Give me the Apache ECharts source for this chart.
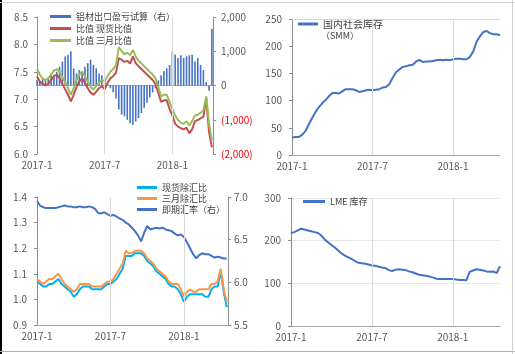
<!DOCTYPE html>
<html>
<head>
<meta charset="utf-8">
<title>铝 比值 库存</title>
<script src="https://cdn.jsdelivr.net/npm/echarts@6/dist/echarts.min.js"></script>
<style>
    html, body { margin: 0; padding: 0; background: #fff; }
    #main { width: 515px; height: 354px; }
</style>
</head>
<body>
<div id="main"></div>
<script>
    // 数据按周取值，x 为自 2017-1 起的月数
    var monthLabels = {0: '2017-1', 6: '2017-7', 12: '2018-1'};

    // 左上：比值与铝材出口盈亏
    var spotRatio = [7.42, 7.32, 7.28, 7.25, 7.28, 7.35, 7.42, 7.45, 7.38, 7.28, 7.18, 7.08, 6.96, 7.08, 7.22, 7.32,
        7.38, 7.30, 7.20, 7.12, 7.08, 7.14, 7.20, 7.24, 7.18, 7.30, 7.38, 7.42, 7.48, 7.75, 7.72, 7.68,
        7.70, 7.65, 7.78, 7.66, 7.60, 7.55, 7.50, 7.45, 7.40, 7.35, 7.28, 7.12, 6.95, 6.98, 6.98, 6.82,
        6.70, 6.55, 6.50, 6.47, 6.45, 6.48, 6.38, 6.45, 6.60, 6.62, 6.65, 6.68, 7.02, 6.40, 6.12];
    var threeMonthRatio = [7.55, 7.45, 7.38, 7.35, 7.38, 7.45, 7.52, 7.55, 7.50, 7.40, 7.32, 7.20, 7.08, 7.20, 7.35, 7.45,
        7.50, 7.42, 7.32, 7.22, 7.18, 7.24, 7.30, 7.35, 7.33, 7.42, 7.50, 7.55, 7.62, 7.95, 7.88, 7.82,
        7.85, 7.80, 7.90, 7.78, 7.70, 7.65, 7.60, 7.55, 7.50, 7.45, 7.38, 7.22, 7.05, 7.08, 7.08, 6.95,
        6.82, 6.70, 6.62, 6.57, 6.55, 6.60, 6.52, 6.60, 6.70, 6.72, 6.75, 6.80, 7.05, 6.55, 6.25];
    var exportProfit = [150, 100, 200, 150, 250, 350, 300, 400, 550, 700, 850, 900, 1000, 500, 350, 450,
        400, 550, 650, 750, 600, 500, 350, 300, 150, 50, -80, -200, -380, -700, -850, -900,
        -1000, -1100, -1150, -1050, -950, -800, -650, -500, -350, -200, -80, 150, 300, 420, 500, 600,
        1000, 900, 800, 880, 800, 850, 880, 900, 700, 800, 600, 450, 100, -150, 1650];

    // 右上：国内社会库存（SMM）
    var domesticStock = [32, 33, 33, 37, 44, 56, 68, 79, 88, 95, 101, 108, 114, 114, 113, 117,
        121, 121, 121, 119, 116, 117, 119, 120, 119, 120, 121, 124, 125, 130, 142, 152,
        157, 162, 163, 165, 166, 172, 175, 171, 172, 172, 173, 174, 175, 174, 175, 174,
        176, 177, 177, 176, 176, 180, 190, 208, 218, 226, 228, 224, 222, 222, 220];

    // 左下：除汇比与即期汇率
    var spotFxRatio = [1.07, 1.06, 1.05, 1.05, 1.06, 1.06, 1.07, 1.08, 1.06, 1.05, 1.04, 1.03, 1.01, 1.02, 1.04, 1.05,
        1.05, 1.05, 1.04, 1.04, 1.04, 1.04, 1.05, 1.06, 1.06, 1.07, 1.08, 1.10, 1.12, 1.17, 1.17, 1.17,
        1.18, 1.18, 1.18, 1.17, 1.15, 1.14, 1.13, 1.11, 1.10, 1.09, 1.08, 1.06, 1.05, 1.05, 1.04, 1.02,
        0.99, 1.01, 1.02, 1.02, 1.02, 1.02, 1.02, 1.01, 1.01, 1.04, 1.05, 1.05, 1.11, 1.03, 0.97];
    var threeMonthFxRatio = [1.08, 1.07, 1.06, 1.07, 1.08, 1.08, 1.09, 1.10, 1.08, 1.06, 1.05, 1.04, 1.03, 1.04, 1.06, 1.06,
        1.06, 1.06, 1.05, 1.05, 1.05, 1.05, 1.06, 1.07, 1.07, 1.08, 1.10, 1.12, 1.14, 1.19, 1.18, 1.18,
        1.19, 1.19, 1.19, 1.18, 1.16, 1.15, 1.14, 1.12, 1.11, 1.10, 1.09, 1.07, 1.06, 1.06, 1.06, 1.04,
        1.01, 1.03, 1.04, 1.03, 1.03, 1.04, 1.04, 1.04, 1.04, 1.06, 1.06, 1.07, 1.12, 1.04, 0.99];
    var spotFx = [6.95, 6.90, 6.88, 6.87, 6.87, 6.87, 6.87, 6.88, 6.89, 6.90, 6.89, 6.89, 6.88, 6.88, 6.89, 6.88,
        6.88, 6.89, 6.88, 6.86, 6.81, 6.81, 6.82, 6.80, 6.78, 6.79, 6.77, 6.75, 6.73, 6.70, 6.68, 6.64,
        6.60, 6.55, 6.48, 6.58, 6.66, 6.62, 6.63, 6.64, 6.63, 6.64, 6.62, 6.61, 6.60, 6.57, 6.55, 6.56,
        6.53, 6.47, 6.40, 6.33, 6.28, 6.32, 6.34, 6.33, 6.33, 6.31, 6.29, 6.30, 6.29, 6.28, 6.28];

    // 右下：LME 库存
    var lmeStock = [218, 220, 224, 228, 226, 224, 222, 220, 218, 212, 203, 196, 190, 184, 177, 170,
        165, 161, 157, 152, 148, 147, 146, 144, 142, 141, 139, 137, 136, 131, 129, 132,
        133, 132, 131, 128, 126, 123, 120, 119, 118, 116, 114, 111, 110, 110, 110, 110,
        110, 109, 108, 108, 107, 127, 130, 133, 132, 130, 128, 127, 128, 124, 140];

    var weekX = spotRatio.map(function (_, i) { return i * 0.25; });

    function pairs(vals) {
        return vals.map(function (v, i) { return [weekX[i], v]; });
    }

    var font = 'Noto Sans CJK SC';
    var labelColor = '#595959';

    function xAxisFor(gridIndex, max) {
        return {
            type: 'value', gridIndex: gridIndex, min: 0, max: max, interval: 6,
            axisLine: {lineStyle: {color: '#a6a6a6'}},
            axisTick: {show: false},
            splitLine: {show: false},
            axisLabel: {
                color: labelColor, fontSize: 10, fontFamily: font, margin: 6,
                showMaxLabel: false,
                formatter: function (v) { return monthLabels[v] || ''; }
            }
        };
    }

    function yAxisFor(gridIndex, pos, min, max, interval, fmt, margin, gridLine) {
        return {
            type: 'value', gridIndex: gridIndex, position: pos, min: min, max: max, interval: interval,
            axisLine: {show: true, lineStyle: {color: '#8c8c8c'}},
            axisTick: {show: true, length: 3, lineStyle: {color: '#8c8c8c'}},
            splitLine: {show: !!gridLine, lineStyle: {color: '#e6e6e6'}},
            axisLabel: {color: labelColor, fontSize: 10, fontFamily: font, margin: margin, formatter: fmt}
        };
    }

    function fixed1(v) { return v.toFixed(1); }

    // 竖向网格线（2017-7、2018-1），extra 为额外的横线
    function vGrid(extra) {
        return {
            silent: true, symbol: 'none', label: {show: false},
            lineStyle: {color: '#d9d9d9', type: 'solid', width: 1},
            data: [{xAxis: 6}, {xAxis: 12}].concat(extra || [])
        };
    }

    function legendFor(left, top, names, w, gap, size) {
        return {
            left: left, top: top, orient: 'vertical', icon: 'rect',
            itemWidth: w, itemHeight: 3, itemGap: gap, padding: 0,
            textStyle: {color: '#404040', fontSize: size, fontFamily: font},
            data: names
        };
    }

    var myChart = echarts.init(document.getElementById('main'));

    var option = {
        animation: false,
        backgroundColor: '#fff',
        grid: [
            {left: 37, right: 302, top: 17, bottom: 200},
            {left: 292, right: 15, top: 19, bottom: 199},
            {left: 37, right: 287, top: 197, bottom: 29},
            {left: 291, right: 15, top: 198, bottom: 28}
        ],
        xAxis: [xAxisFor(0, 15.6), xAxisFor(1, 15.5), xAxisFor(2, 15.6), xAxisFor(3, 15.5)],
        yAxis: [
            yAxisFor(0, 'left', 6, 8.5, 0.5, fixed1, 9),
            {
                type: 'value', gridIndex: 0, position: 'right', min: -2000, max: 2000, interval: 1000,
                axisLine: {show: true, lineStyle: {color: '#8c8c8c'}},
                axisTick: {show: true, length: 3, lineStyle: {color: '#8c8c8c'}},
                splitLine: {show: false},
                axisLabel: {
                    fontSize: 10, fontFamily: font, margin: 8,
                    color: function (v) { return Number(v) < 0 ? '#ff0000' : labelColor; },
                    formatter: function (v) {
                        if (v === 0) return '0';
                        var s = Math.abs(v).toLocaleString('en-US');
                        return v < 0 ? '(' + s + ')' : s;
                    }
                }
            },
            yAxisFor(1, 'left', 0, 250, 50, null, 10),
            yAxisFor(2, 'left', 0.9, 1.4, 0.1, fixed1, 10),
            yAxisFor(2, 'right', 5.5, 7.0, 0.5, fixed1, 6),
            yAxisFor(3, 'left', 0, 300, 100, null, 10, true)
        ],
        legend: [
            legendFor(50, 12, ['铝材出口盈亏试算（右）', '比值 现货比值', '比值 三月比值'], 21, 3, 9),
            legendFor(298, 19, ['国内社会库存'], 20, 0, 10),
            legendFor(137, 183, ['现货除汇比', '三月除汇比', '即期汇率（右）'], 20, 2, 9),
            legendFor(303, 197, ['LME 库存'], 22, 0, 9)
        ],
        graphic: [
            {type: 'text', left: 321, top: 31, style: {text: '（SMM）', fill: '#404040', font: '9px "Noto Sans CJK SC"'}},
            {type: 'line', shape: {x1: 1, y1: 0, x2: 1, y2: 354}, style: {stroke: '#000', lineWidth: 2}},
            {type: 'line', shape: {x1: 0, y1: 2.5, x2: 515, y2: 2.5}, style: {stroke: '#d0d0d0', lineWidth: 1}},
            {type: 'line', shape: {x1: 0, y1: 351.5, x2: 515, y2: 351.5}, style: {stroke: '#b0b0b0', lineWidth: 1}},
            {type: 'line', shape: {x1: 512.5, y1: 0, x2: 512.5, y2: 354}, style: {stroke: '#d0d0d0', lineWidth: 1}}
        ],
        series: [
            {
                name: '铝材出口盈亏试算（右）', type: 'bar', xAxisIndex: 0, yAxisIndex: 1,
                barWidth: 1.6, itemStyle: {color: '#4472c4'},
                data: pairs(exportProfit), markLine: vGrid()
            },
            {
                name: '比值 现货比值', type: 'line', xAxisIndex: 0, yAxisIndex: 0, showSymbol: false,
                lineStyle: {color: '#c0504d', width: 2}, itemStyle: {color: '#c0504d'},
                data: pairs(spotRatio)
            },
            {
                name: '比值 三月比值', type: 'line', xAxisIndex: 0, yAxisIndex: 0, showSymbol: false,
                lineStyle: {color: '#9bbb59', width: 2}, itemStyle: {color: '#9bbb59'},
                data: pairs(threeMonthRatio)
            },
            {
                name: '国内社会库存', type: 'line', xAxisIndex: 1, yAxisIndex: 2, showSymbol: false,
                lineStyle: {color: '#4472c4', width: 2}, itemStyle: {color: '#4472c4'},
                data: pairs(domesticStock), markLine: vGrid([{yAxis: 250}])
            },
            {
                name: '现货除汇比', type: 'line', xAxisIndex: 2, yAxisIndex: 3, showSymbol: false,
                lineStyle: {color: '#00b0f0', width: 2}, itemStyle: {color: '#00b0f0'},
                data: pairs(spotFxRatio), markLine: vGrid()
            },
            {
                name: '三月除汇比', type: 'line', xAxisIndex: 2, yAxisIndex: 3, showSymbol: false,
                lineStyle: {color: '#f79646', width: 2}, itemStyle: {color: '#f79646'},
                data: pairs(threeMonthFxRatio)
            },
            {
                name: '即期汇率（右）', type: 'line', xAxisIndex: 2, yAxisIndex: 4, showSymbol: false,
                lineStyle: {color: '#4472c4', width: 2}, itemStyle: {color: '#4472c4'},
                data: pairs(spotFx)
            },
            {
                name: 'LME 库存', type: 'line', xAxisIndex: 3, yAxisIndex: 5, showSymbol: false,
                lineStyle: {color: '#4472c4', width: 2}, itemStyle: {color: '#4472c4'},
                data: pairs(lmeStock), markLine: vGrid()
            }
        ]
    };

    myChart.setOption(option);
</script>
</body>
</html>
